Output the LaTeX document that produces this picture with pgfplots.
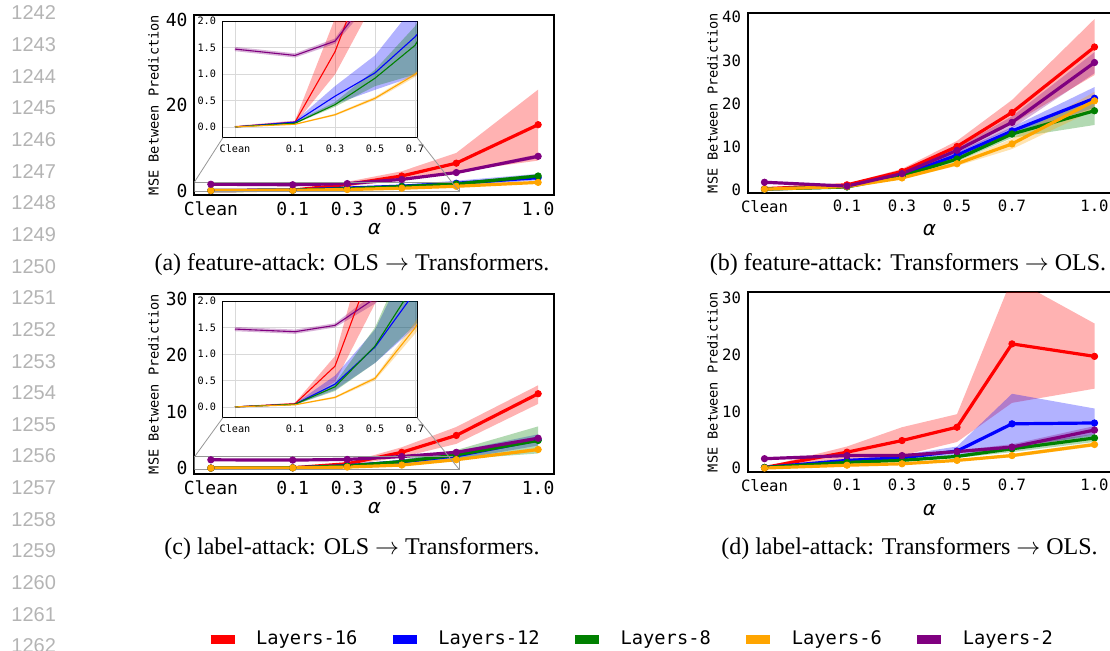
\documentclass[border=0pt]{standalone}
\usepackage{fontspec}
\usepackage{pgfplots}
\pgfplotsset{compat=1.18}
\usepackage{pgfplotstable}
\setmainfont{Liberation Serif}
\newfontfamily\mono{DejaVu Sans Mono}
\newfontfamily\djv{DejaVu Sans}
\newfontfamily\lsans{Liberation Sans}
\definecolor{mred}{RGB}{255,0,0}
\definecolor{mblue}{RGB}{0,0,255}
\definecolor{mgreen}{RGB}{0,128,0}
\definecolor{morange}{RGB}{255,165,0}
\definecolor{mpurple}{RGB}{128,0,128}
\definecolor{lngray}{RGB}{180,180,180}
\definecolor{insgray}{RGB}{150,150,150}

% Clean is plotted at x = -0.2
% mean values: r=Layers-16, b=Layers-12, g=Layers-8, o=Layers-6, p=Layers-2
\pgfplotstableread{
x     r     b     g     o     p
-0.2  0.0   0.0   0.0   0.0   1.47
0.1   0.09  0.09  0.07  0.05  1.35
0.3   1.42  0.58  0.42  0.23  1.62
0.5   3.4   1.02  0.92  0.54  2.6
0.7   6.4   1.70  1.54  0.99  4.2
1.0   15.4  3.0   3.4   1.9   8.0
}\mA
% band outlines: upper bound forward, then lower bound backward
\pgfplotstableread{
x     r     b     g     o     p
-0.2  0.02  0.01  0.01  0.01  1.51
0.1   0.12  0.11  0.09  0.06  1.39
0.3   2.05  0.77  0.47  0.25  1.67
0.5   4.5   1.35  1.08  0.57  2.75
0.7   8.8   2.3   1.9   1.03  4.45
1.0   23.6  3.9   3.8   2.1   8.5
1.0   7.0   2.4   2.9   1.7   7.5
0.7   4.4   0.96  0.99  0.94  3.95
0.5   2.4   0.70  0.77  0.51  2.45
0.3   0.99  0.43  0.38  0.21  1.57
0.1   0.06  0.07  0.06  0.04  1.31
-0.2  0.0   0.0   0.0   0.0   1.43
}\bA

\pgfplotstableread{
x     r     b     g     o     p
-0.2  0.2   0.1   0.1   0.1   1.7
0.1   1.1   0.7   0.6   0.7   0.8
0.3   4.2   3.3   3.1   2.7   3.7
0.5   10.0  8.0   7.1   6.0   9.1
0.7   17.9  13.6  12.9  10.6  15.6
1.0   33.1  21.2  18.3  20.6  29.5
}\mB
\pgfplotstableread{
x     r     b     g     o     p
-0.2  0.3   0.15  0.15  0.15  1.85
0.1   1.3   0.8   0.7   0.8   0.9
0.3   4.8   3.6   3.4   3.0   4.0
0.5   11.3  8.7   7.7   6.5   9.8
0.7   20.8  14.5  13.8  11.8  17.0
1.0   39.6  23.8  21.5  22.7  31.9
1.0   26.6  19.0  15.0  18.5  27.0
0.7   15.2  12.7  12.0  9.4   14.2
0.5   8.7   7.3   6.5   5.5   8.4
0.3   3.6   3.0   2.8   2.4   3.4
0.1   0.9   0.6   0.5   0.6   0.7
-0.2  0.1   0.05  0.05  0.05  1.55
}\bB

\pgfplotstableread{
x     r     b     g     o     p
-0.2  0.0   0.0   0.0   0.0   1.47
0.1   0.06  0.05  0.05  0.04  1.42
0.3   0.77  0.43  0.38  0.18  1.54
0.5   2.8   1.13  1.15  0.54  2.05
0.7   5.8   2.17  2.33  1.49  2.8
1.0   13.2  5.0   4.9   3.3   5.3
}\mC
\pgfplotstableread{
x     r     b     g     o     p
-0.2  0.01  0.01  0.01  0.01  1.51
0.1   0.08  0.06  0.06  0.05  1.46
0.3   0.96  0.59  0.45  0.20  1.58
0.5   3.7   1.46  1.5   0.57  2.15
0.7   7.3   3.0   3.2   1.6   3.0
1.0   14.7  6.0   7.4   3.6   5.6
1.0   11.4  4.0   2.6   3.0   5.0
0.7   4.3   1.5   1.55  1.38  2.6
0.5   1.95  0.83  0.83  0.50  1.95
0.3   0.47  0.32  0.30  0.16  1.50
0.1   0.04  0.04  0.04  0.03  1.38
-0.2  0.0   0.0   0.0   0.0   1.43
}\bC

\pgfplotstableread{
x     r     b     g     o     p
-0.2  0.1   0.1   0.1   0.0   1.65
0.1   2.8   1.35  1.0   0.5   2.2
0.3   4.85  1.8   1.35  0.75  2.2
0.5   7.2   3.0   2.05  1.35  2.9
0.7   21.9  7.8   3.4   2.2   3.7
1.0   19.7  7.95  5.3   4.15  6.7
}\mD
\pgfplotstableread{
x     r     b     g     o     p
-0.2  0.2   0.2   0.15  0.05  1.75
0.1   3.8   1.6   1.1   0.6   2.4
0.3   7.2   2.3   1.5   0.85  2.4
0.5   9.5   3.8   2.3   1.5   3.1
0.7   33.5  13.1  4.0   2.5   4.2
1.0   25.5  10.5  6.0   4.5   7.4
1.0   14.0  5.6   4.6   3.8   6.0
0.7   11.5  3.8   2.8   1.9   3.2
0.5   4.6   2.2   1.8   1.2   2.7
0.3   2.2   1.4   1.2   0.65  2.0
0.1   1.35  1.1   0.9   0.4   2.0
-0.2  0.0   0.0   0.05  0.0   1.55
}\bD

\newcommand{\allbands}[1]{%
 \addplot[bnd=mred] table[x=x,y=r]{#1} -- cycle;
 \addplot[bnd=mblue] table[x=x,y=b]{#1} -- cycle;
 \addplot[bnd=mgreen] table[x=x,y=g]{#1} -- cycle;
 \addplot[bnd=morange] table[x=x,y=o]{#1} -- cycle;
 \addplot[bnd=mpurple] table[x=x,y=p]{#1} -- cycle;
}
\newcommand{\alllines}[2]{%
 \addplot[#2=mred] table[x=x,y=r]{#1};
 \addplot[#2=mblue] table[x=x,y=b]{#1};
 \addplot[#2=mgreen] table[x=x,y=g]{#1};
 \addplot[#2=morange] table[x=x,y=o]{#1};
 \addplot[#2=mpurple] table[x=x,y=p]{#1};
}

\pgfplotsset{
 bnd/.style={draw=none, fill=#1, fill opacity=0.3, forget plot, no marks},
 ml/.style={color=#1, line width=1.6pt, mark=*, mark size=1.6pt, mark options={solid, line width=0.4pt}},
 il/.style={color=#1, line width=0.55pt, no marks},
 mainax/.style={scale only axis, anchor=south west, height=90pt,
   xmin=-0.26, xmax=1.06, xtick={-0.2,0.1,0.3,0.5,0.7,1.0},
   xticklabels={Clean,0.1,0.3,0.5,0.7,1.0}, major tick length=0pt,
   axis line style={line width=1pt, black},
   ylabel={MSE Between Prediction}, xlabel={α},
   xlabel style={font=\djv\itshape\fontsize{10}{12}\selectfont, anchor=center},
   ylabel style={font=\mono\fontsize{6.8}{8}\selectfont, anchor=center}},
 inset/.style={scale only axis, anchor=south west, width=97pt, height=58.25pt,
   xmin=-0.26, xmax=0.71, ymin=-0.2, ymax=2.0,
   xtick={-0.2,0.1,0.3,0.5,0.7}, xticklabels={Clean,0.1,0.3,0.5,0.7},
   ytick={0,0.5,1,1.5,2}, yticklabels={0.0,0.5,1.0,1.5,2.0},
   grid=major, grid style={gray!30, line width=0.4pt}, major tick length=0pt,
   axis line style={line width=0.5pt, black},
   ticklabel style={font=\mono\fontsize{5.1}{6}\selectfont},
   axis background/.style={fill=white}},
}

\begin{document}
\begin{tikzpicture}
\useasboundingbox (0,0) rectangle (555pt,-325pt);
% line numbers
\foreach \k in {0,...,20} {
  \pgfmathtruncatemacro\num{1242+\k}
  \node[anchor=west, inner sep=0pt, text=lngray, font=\lsans\fontsize{10}{12}\selectfont] at (5.5pt, {-(6.5pt+15.825pt*\k)}) {\num};
}

% ---------------- (a)
\begin{axis}[mainax, at={(97.25pt,-97.5pt)}, width=180pt,
  ymin=-1.05, ymax=41.05, ytick={0,20,40}, yticklabels={0,20,40},
  ticklabel style={font=\mono\fontsize{9}{10}\selectfont},
  xlabel style={at={(axis description cs:0.5,-0.19)}},
  ylabel style={at={(axis description cs:-0.1139,0.5)}}]
\allbands{\bA}
\alllines{\mA}{ml}
\draw[insgray, line width=0.4pt] (axis cs:-0.26,-0.2) rectangle (axis cs:0.71,2.0);
\coordinate (aTL) at (axis cs:-0.26,2.0);
\coordinate (aBR) at (axis cs:0.71,-0.2);
\end{axis}
\begin{axis}[inset, name=ia, at={(111.5pt,-68.75pt)}]
\allbands{\bA}
\alllines{\mA}{il}
\end{axis}
\draw[insgray, line width=0.4pt] (ia.south west) -- (aTL);
\draw[insgray, line width=0.4pt] (ia.south east) -- (aBR);

% ---------------- (b)
\begin{axis}[mainax, at={(374pt,-96.5pt)}, width=181.5pt,
  ymin=-0.8, ymax=41.0, ytick={0,10,20,30,40}, yticklabels={0,10,20,30,40},
  ticklabel style={font=\mono\fontsize{7.8}{9}\selectfont},
  xlabel style={at={(axis description cs:0.5,-0.2056)}},
  ylabel style={at={(axis description cs:-0.0978,0.5)}}]
\allbands{\bB}
\alllines{\mB}{ml}
\end{axis}

% ---------------- (c)
\begin{axis}[mainax, at={(97.25pt,-237pt)}, width=180pt,
  ymin=-1.05, ymax=30.9, ytick={0,10,20,30}, yticklabels={0,10,20,30},
  ticklabel style={font=\mono\fontsize{9}{10}\selectfont},
  xlabel style={at={(axis description cs:0.5,-0.19)}},
  ylabel style={at={(axis description cs:-0.1139,0.5)}}]
\allbands{\bC}
\alllines{\mC}{ml}
\draw[insgray, line width=0.4pt] (axis cs:-0.26,-0.2) rectangle (axis cs:0.71,2.0);
\coordinate (cTL) at (axis cs:-0.26,2.0);
\coordinate (cBR) at (axis cs:0.71,-0.2);
\end{axis}
\begin{axis}[inset, name=ic, at={(111.5pt,-208.75pt)}]
\allbands{\bC}
\alllines{\mC}{il}
\end{axis}
\draw[insgray, line width=0.4pt] (ic.south west) -- (cTL);
\draw[insgray, line width=0.4pt] (ic.south east) -- (cBR);

% ---------------- (d)
\begin{axis}[mainax, at={(374pt,-236pt)}, width=181.5pt,
  ymin=-0.7, ymax=31.05, ytick={0,10,20,30}, yticklabels={0,10,20,30},
  ticklabel style={font=\mono\fontsize{7.8}{9}\selectfont},
  xlabel style={at={(axis description cs:0.5,-0.2111)}},
  ylabel style={at={(axis description cs:-0.0978,0.5)}}]
\allbands{\bD}
\alllines{\mD}{ml}
\end{axis}

% captions
\node[font=\fontsize{12}{14}\selectfont] at (176pt,-132.5pt) {(a) feature-attack: OLS $\rightarrow$ Transformers.};
\node[font=\fontsize{12}{14}\selectfont] at (454pt,-132.5pt) {(b) feature-attack: Transformers $\rightarrow$ OLS.};
\node[font=\fontsize{12}{14}\selectfont] at (176pt,-274.5pt) {(c) label-attack: OLS $\rightarrow$ Transformers.};
\node[font=\fontsize{12}{14}\selectfont] at (454.75pt,-274.5pt) {(d) label-attack: Transformers $\rightarrow$ OLS.};

% legend
\begin{axis}[at={(314.75pt,-319.5pt)}, anchor=center, scale only axis, width=20pt, height=10pt,
  hide axis, xmin=0, xmax=1, ymin=0, ymax=1, legend columns=5,
  legend style={at={(0.5,0.5)}, anchor=center, draw=none, fill=none,
    font=\mono\fontsize{9.35}{11}\selectfont,
    /tikz/every odd column/.style={column sep=8.5pt},
    /tikz/every even column/.style={column sep=15.5pt},
    nodes={inner sep=0pt}},
  legend image code/.code={\draw[#1, line width=4.5pt] (0pt,0pt) -- (12pt,0pt);}]
\addlegendimage{mred}\addlegendentry{Layers-16}
\addlegendimage{mblue}\addlegendentry{Layers-12}
\addlegendimage{mgreen}\addlegendentry{Layers-8}
\addlegendimage{morange}\addlegendentry{Layers-6}
\addlegendimage{mpurple}\addlegendentry{Layers-2}
\end{axis}
\end{tikzpicture}
\end{document}
